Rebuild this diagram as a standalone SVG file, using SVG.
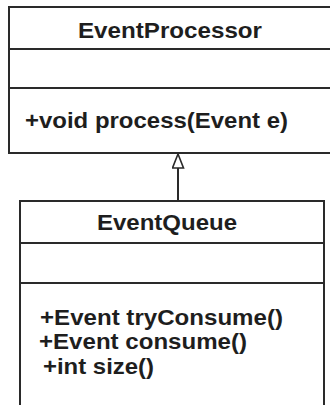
<svg xmlns="http://www.w3.org/2000/svg" width="330" height="405" viewBox="0 0 330 405">
<defs>
<style>
.box{fill:#fff;stroke:#2a2a2a;stroke-width:2}
.ln{stroke:#2a2a2a;stroke-width:2}
.t{font-family:"Liberation Sans",Arial,sans-serif;font-weight:bold;fill:#1e1e1e;font-size:22px}
</style>
<marker id="gen" markerWidth="16" markerHeight="13" refX="15" refY="6.5" orient="auto" markerUnits="userSpaceOnUse" viewBox="0 0 16 13">
<path d="M15,6.5 L1,1 L1,12 Z" fill="#fff" stroke="#2a2a2a" stroke-width="1.6"/>
</marker>
</defs>
<rect width="330" height="405" fill="#fff"/>
<g id="connectors">
<line class="ln" x1="178" y1="201" x2="178" y2="154" marker-end="url(#gen)"/>
</g>
<g id="EventProcessor">
<rect class="box" x="9" y="7" width="330" height="146"/>
<line class="ln" x1="9" y1="49" x2="330" y2="49"/>
<line class="ln" x1="9" y1="88" x2="330" y2="88"/>
<text class="t" x="78" y="38" textLength="184" lengthAdjust="spacingAndGlyphs">EventProcessor</text>
<text class="t" x="25" y="128" textLength="263" lengthAdjust="spacingAndGlyphs">+void process(Event e)</text>
</g>
<g id="EventQueue">
<rect class="box" x="20" y="201" width="304" height="220"/>
<line class="ln" x1="20" y1="243" x2="324" y2="243"/>
<line class="ln" x1="20" y1="283" x2="324" y2="283"/>
<text class="t" x="97" y="230" textLength="140" lengthAdjust="spacingAndGlyphs">EventQueue</text>
<text class="t" x="40" y="325" textLength="243" lengthAdjust="spacingAndGlyphs">+Event tryConsume()</text>
<text class="t" x="39" y="349" textLength="208" lengthAdjust="spacingAndGlyphs">+Event consume()</text>
<text class="t" x="43" y="374" textLength="111" lengthAdjust="spacingAndGlyphs">+int size()</text>
</g>
</svg>
